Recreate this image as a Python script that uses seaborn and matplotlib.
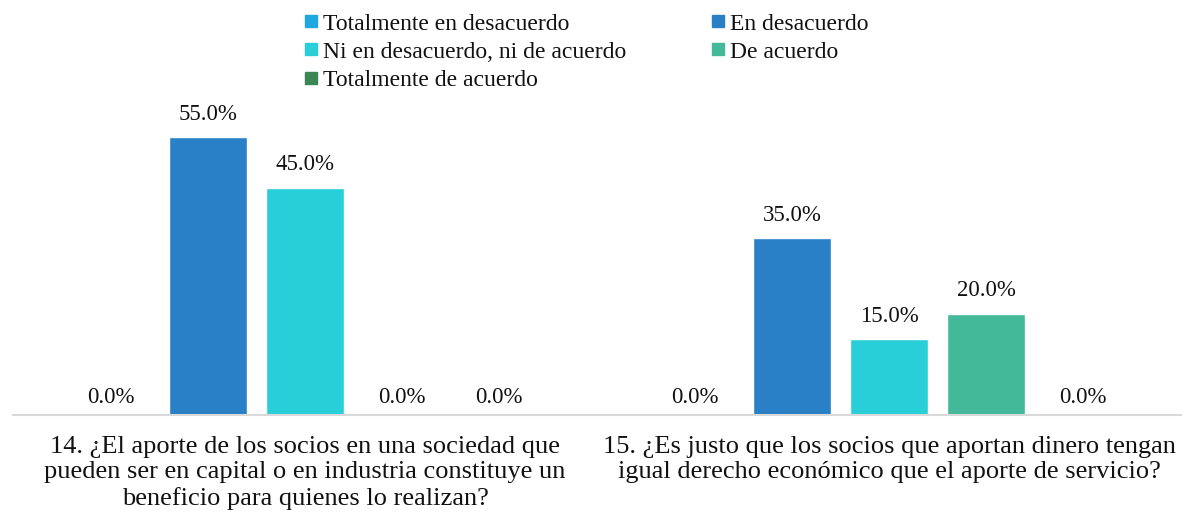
"""
Grouped bar chart: opinion on partner contributions (questions 14 and 15).
"""

import pandas as pd
import matplotlib.pyplot as plt
import seaborn as sns
from matplotlib.lines import Line2D

# Data
preguntas = [
    "14. ¿El aporte de los socios en una sociedad que\n"
    "pueden ser en capital o en industria constituye un\n"
    "beneficio para quienes lo realizan?",
    "15. ¿Es justo que los socios que aportan dinero tengan\n"
    "igual derecho económico que el aporte de servicio?",
]
respuestas = [
    "Totalmente en desacuerdo",
    "En desacuerdo",
    "Ni en desacuerdo, ni de acuerdo",
    "De acuerdo",
    "Totalmente de acuerdo",
]
valores_p14 = [0.0, 55.0, 45.0, 0.0, 0.0]
valores_p15 = [0.0, 35.0, 15.0, 20.0, 0.0]
colores = ["#1FA7E0", "#2A80C6", "#29CFD8", "#43B999", "#3B8753"]


def build_frame() -> pd.DataFrame:
    rows = []
    for pregunta, valores in zip(preguntas, [valores_p14, valores_p15]):
        for resp, val in zip(respuestas, valores):
            rows.append({"pregunta": pregunta, "respuesta": resp, "valor": val})
    return pd.DataFrame(rows)


def plot_chart(df: pd.DataFrame) -> None:
    sns.set_style("white")
    plt.rcParams["font.family"] = ["Liberation Serif", "DejaVu Serif"]

    fig = plt.figure(figsize=(11.82, 5.22), dpi=100)
    ax = fig.add_axes([13 / 1182, 107 / 522, 1168 / 1182, 303 / 522])

    sns.barplot(
        data=df,
        x="pregunta",
        y="valor",
        hue="respuesta",
        hue_order=respuestas,
        palette=colores,
        saturation=1,
        width=0.83,
        gap=0.2,
        legend=False,
        ax=ax,
    )

    # labels above bars; zero bars get their label a little closer to the axis
    for cont in ax.containers:
        vals = cont.datavalues
        altos = [f"{v:.1f}%" if v > 0 else "" for v in vals]
        ceros = [f"{v:.1f}%" if v == 0 else "" for v in vals]
        ax.bar_label(cont, labels=altos, padding=9, fontsize=16.5, color="#111111")
        ax.bar_label(cont, labels=ceros, padding=5, fontsize=16.5, color="#111111")

    ax.set_ylim(0, 60)
    ax.set_xlim(-0.5, 1.5)
    ax.set_xlabel("")
    ax.set_ylabel("")
    ax.set_yticks([])
    ax.tick_params(axis="x", length=0, labelsize=19, pad=15, labelcolor="#111111")
    for lbl in ax.get_xticklabels():
        lbl.set_linespacing(1.2)
    for side in ["left", "right", "top"]:
        ax.spines[side].set_visible(False)
    ax.spines["bottom"].set_color("#D9D9D9")
    ax.spines["bottom"].set_linewidth(1.5)

    handles = [
        Line2D([], [], marker="s", linestyle="", markersize=8,
               markerfacecolor=c, markeredgecolor=c)
        for c in colores
    ]
    # matplotlib fills legend columns first; reorder to read row by row
    orden = [0, 2, 4, 1, 3]
    fig.legend(
        [handles[i] for i in orden],
        [respuestas[i] for i in orden],
        loc="upper left",
        bbox_to_anchor=(291 / 1182, 1.0),
        ncol=2,
        frameon=False,
        fontsize=17,
        labelcolor="#111111",
        handlelength=0.6,
        handletextpad=0.2,
        columnspacing=3.6,
        labelspacing=0.28,
        borderaxespad=0.15,
    )

    fig.savefig("out.png", dpi=100)


if __name__ == "__main__":
    plot_chart(build_frame())
